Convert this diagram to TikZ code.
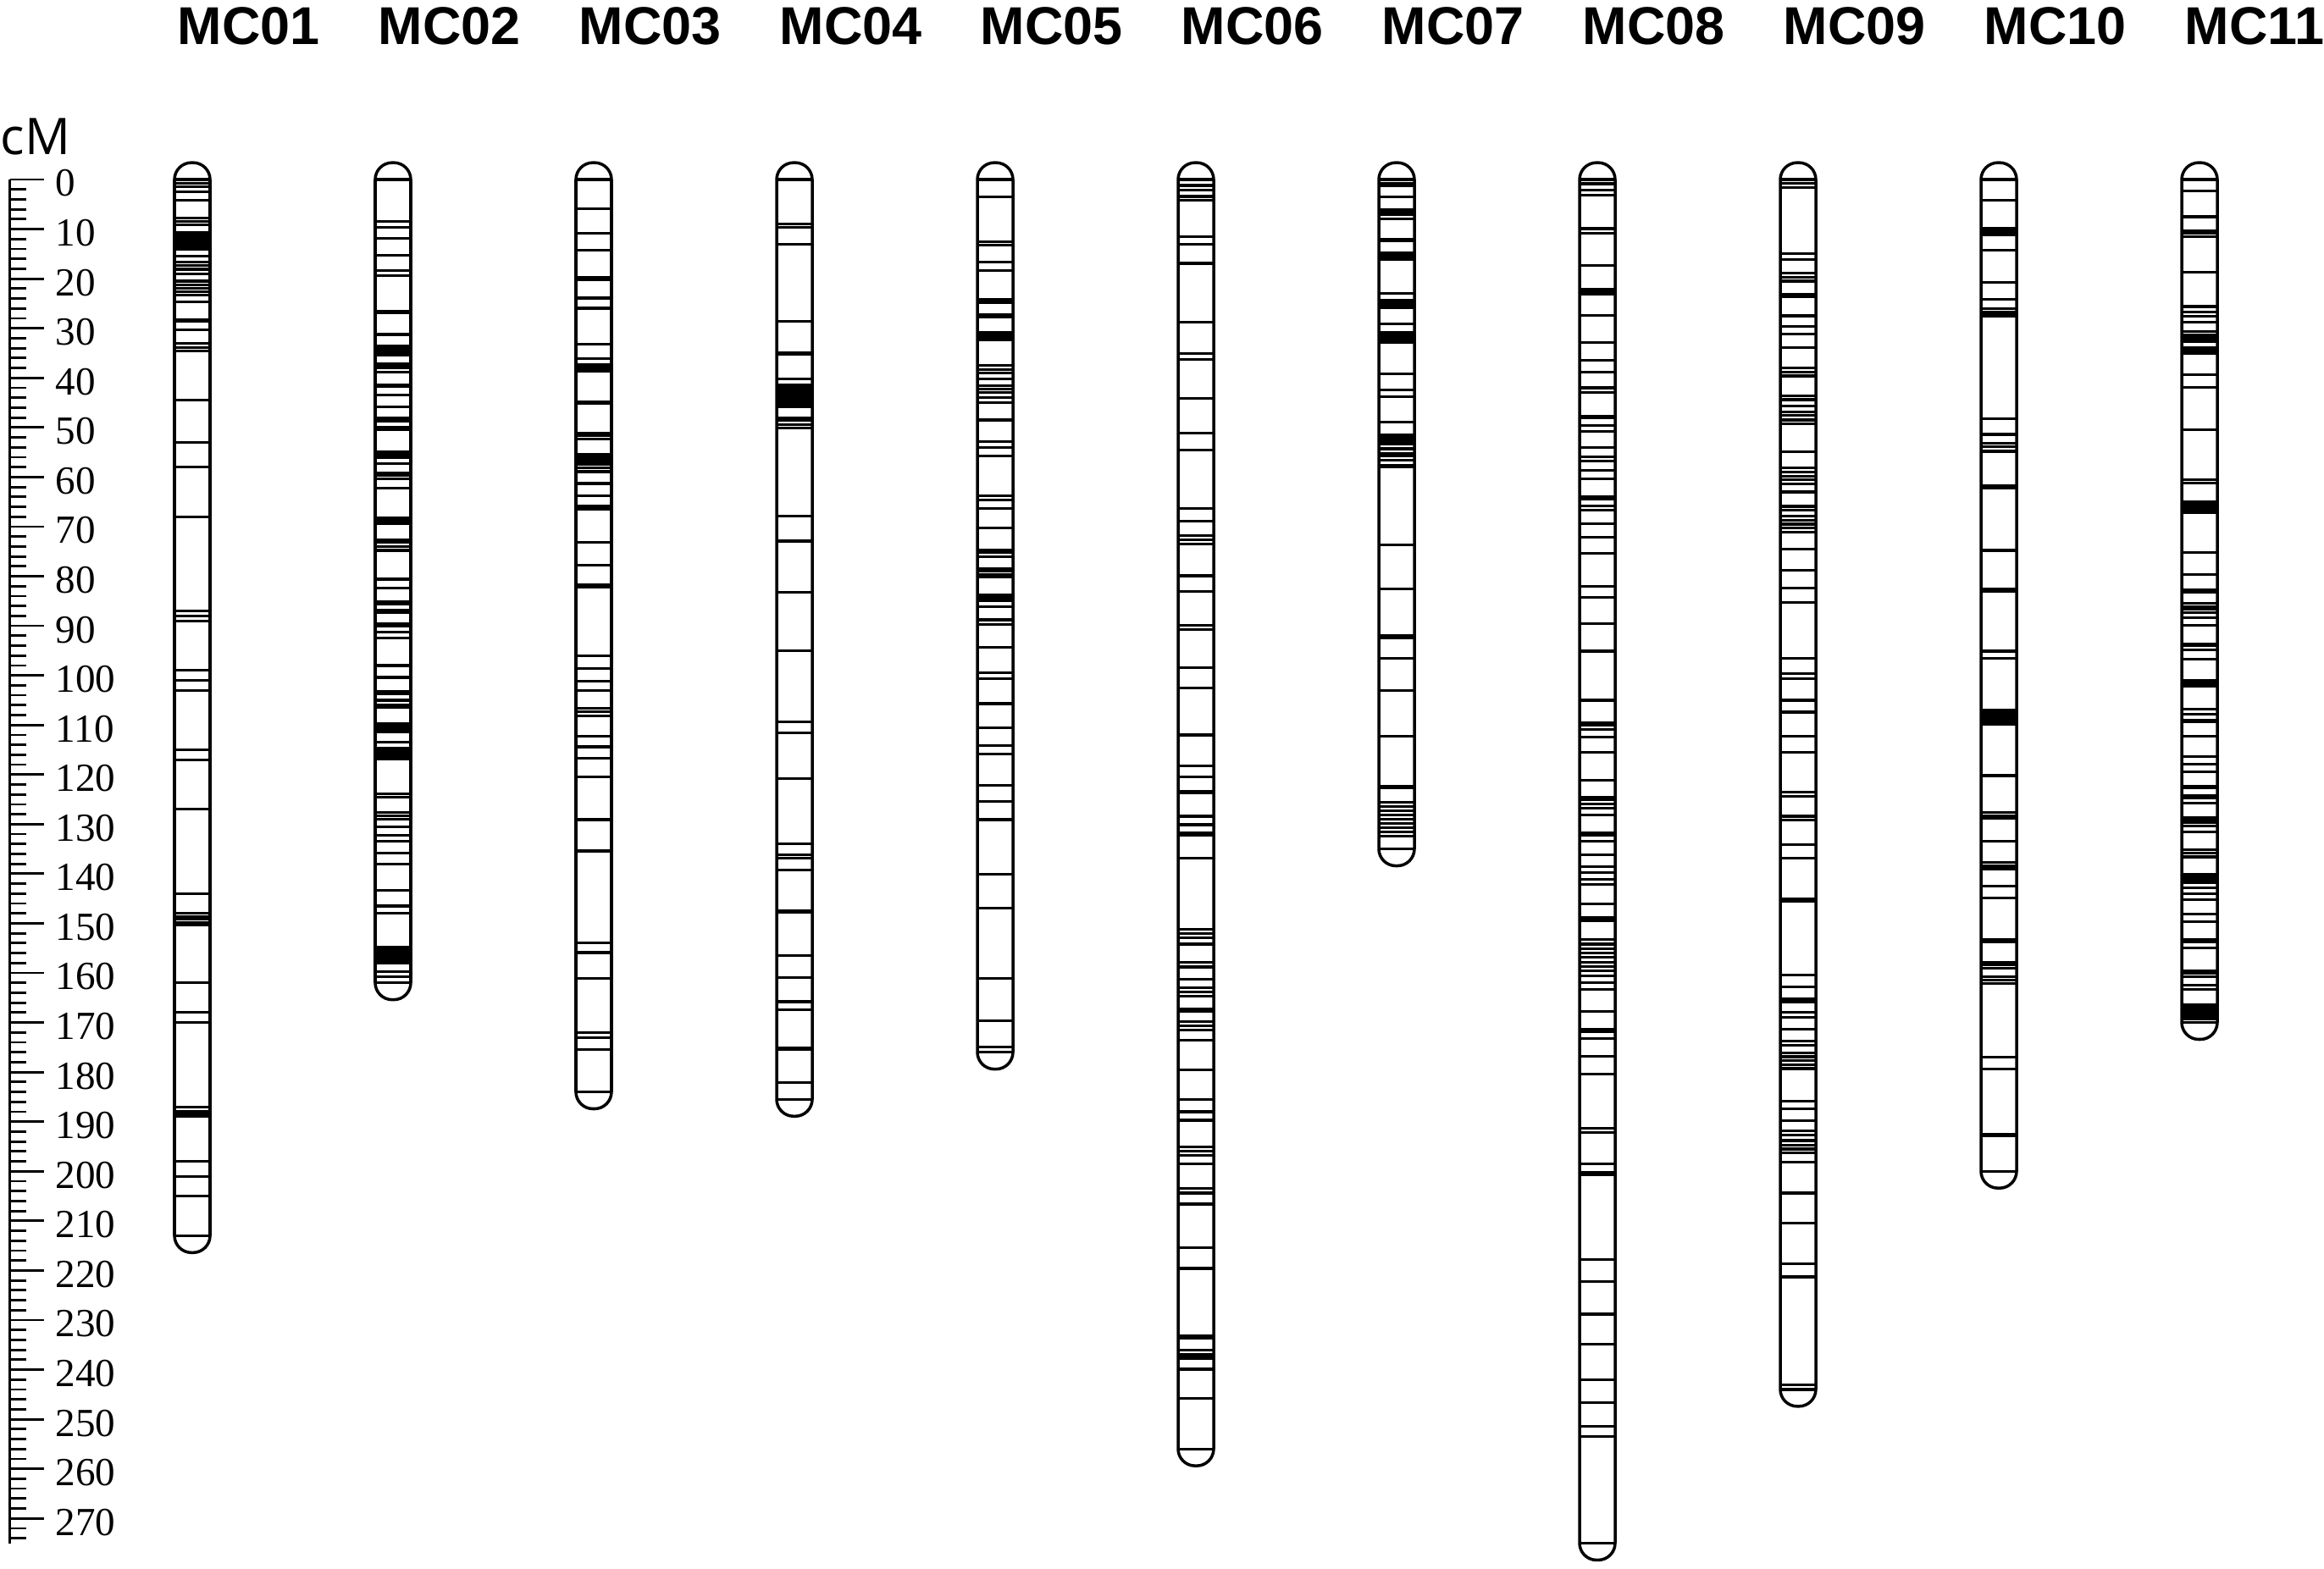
\documentclass[tikz,border=0pt]{standalone}
\usepackage{fontspec}
\setmainfont{Liberation Serif}
\setsansfont{Liberation Sans}
\newfontfamily\unitfont{Open Sans}

\tikzset{
  chrom/.style={line width=1pt, rounded corners=0.2cm},
  marker/.style={line width=0.9pt},
  axisline/.style={line width=0.8pt},
  chrlabel/.style={anchor=base west, inner sep=0pt, font=\sffamily\bfseries\fontsize{17.9}{18}\selectfont},
  scalelabel/.style={anchor=west, inner sep=0pt, yshift=-0.045cm, font=\fontsize{13.4}{14}\selectfont}
}

% name, x, length (cM), marker positions (cM)
\newcommand\linkgroup[4]{
  \node[chrlabel] (#1) at (#2-0.18,-27.3) {#1};
  \foreach \m in {#4}
    \draw[marker] (#2-0.195,\m) -- (#2+0.195,\m);
  \draw[chrom] (#2-0.21,-3.4) rectangle (#2+0.21,#3+3.4);
}

\begin{document}
\begin{tikzpicture}
  \useasboundingbox (0,0) rectangle (27.44,-18.52);
  \node[anchor=base west, inner sep=0pt, font=\unitfont\fontsize{17}{18}\selectfont] (unit) at (0,-1.82) {cM};
  \begin{scope}[yshift=-2.12cm, y=-0.05857cm]
    \draw[axisline] (0.117,0) -- (0.117,275);
    \foreach \t in {0,2,...,274}
      \draw[axisline] (0.117,\t) -- (0.307,\t);
    \foreach \t in {0,10,...,270} {
      \draw[axisline] (0.117,\t) -- (0.517,\t);
      \node[scalelabel] (t\t) at (0.65,\t) {\t};
    }
    \linkgroup{MC01}{2.27}{213}{0,0.7,1.4,2.5,4.2,7.8,8.5,9.2,10.6,11.1,11.6,12.1,12.6,13.1,13.6,14.1,15.5,16.6,17.3,18.1,19,20.5,21.2,21.9,22.6,23.3,24.7,28.2,28.6,30.3,33.1,33.9,34.6,44.5,53,58,68,87,88,89,99,101,103,115,117,127,144,148,148.6,149.2,149.8,150.4,162,168,170,187,188,188.6,189,198,201,205,213}
    \linkgroup{MC02}{4.64}{162}{0,8.4,9.6,11.8,15.3,18.3,19.4,26.5,26.9,31.2,31.4,33.6,34.1,34.5,34.9,35.5,37.1,37.7,38,38.8,41.5,41.8,43.4,45.9,48,48.4,48.7,50,50.5,54.9,55.3,55.7,56,57.3,59.2,59.7,60.4,62.2,68.2,68.8,69.4,72.6,73.1,74,74.8,80.6,82.4,85.2,85.7,86.8,87.3,89.5,90.1,91.2,92.5,98,100.4,103.2,103.7,105,105.9,106.4,109.7,110.3,110.7,111,111.4,113.5,114.6,115.1,115.6,116.2,116.8,123.9,124.5,127.7,128.3,129,130.5,132.3,133.4,135.9,138.1,143.3,146.5,148,154.8,155.3,155.9,156.5,157,157.6,158.1,159.8,160.8,162}
    \linkgroup{MC03}{7.01}{184}{0,5.9,10.8,14.3,19.8,20.2,23.9,25.8,26.1,33.2,36.1,37.4,38,38.6,44.8,45.2,51.1,51.7,52.3,55.4,55.9,56.4,57,57.5,58.1,58.9,61.3,63.8,65.9,66.5,73.1,77.8,81.8,82.2,96.1,98.6,101.1,103,106.7,107.3,108.2,112.3,114.4,116.7,120.4,129.1,135.4,154,155.9,161.1,172.1,173,175.5,184}
    \linkgroup{MC04}{9.38}{185.5}{0,9,9.6,13.1,28.6,34.9,35.2,40.2,41.4,41.9,42.4,42.9,43.4,43.9,44.4,44.9,45.4,45.8,48,48.6,49.5,50.1,67.9,72.9,83.2,95,109.3,111.6,120.8,134,136.2,136.8,139.3,147.4,147.8,156.5,160.9,165.8,167.4,175.2,175.5,182.1,185.5}
    \linkgroup{MC05}{11.75}{176}{0,3.5,12.5,13.3,16.6,18.3,24.2,24.6,24.9,27.2,27.7,30.8,31.2,31.6,32,32.4,37.5,38.3,39,40.2,41.6,42.2,43,44,45,48.5,52.8,54,55.8,63.8,64.6,66.4,70.3,74.7,75.2,76.1,78.4,79,79.6,80.2,83.8,84.2,84.6,85,86.2,88.8,89.7,94.3,99.4,100.6,105.7,110.6,114.2,115.9,122.2,125.4,129.1,140.1,146.9,161.1,169.6,174.9,176}
    \linkgroup{MC06}{14.12}{256}{0,1.2,2.2,3.4,4.2,11.5,13,16.9,28.7,35.1,36.3,44.1,51.2,54.6,66.4,68.9,71.8,72.6,73.5,79.9,83.1,89.9,90.7,98.5,102.5,112,118.2,120.4,123.3,123.7,128.4,130.1,131.8,132.3,136.8,151.2,152,152.9,154.2,157.9,158.8,161.3,163,163.9,164.7,167.2,167.7,169.8,170.6,171.5,173.5,179.6,185.5,188,189.7,195.1,195.9,196.8,198.5,203.5,204.4,206.6,215.4,219.6,233.1,233.6,236,237,237.7,239.9,245.8,256}
    \linkgroup{MC07}{16.49}{135}{0,0.7,1.3,3.5,6.1,6.5,7,7.9,12.1,12.3,14.7,15.2,15.7,16.2,22.9,24.4,24.9,25.4,25.8,29.1,30.9,31.4,31.9,32.4,32.8,39.2,42.4,43.8,48.9,51.5,51.9,52.4,52.9,53.3,54.3,55.2,55.7,56.6,57.6,57.9,73.7,82.5,91.9,92.4,96.5,103.1,112.3,122.4,122.7,125.6,126.5,127.3,128.2,129,129.8,130.7,131.6,132.4,135}
    \linkgroup{MC08}{18.86}{275}{0,0.85,2.1,3.2,9.9,10.8,17.4,22.1,22.7,23.1,27.4,32.8,36.4,38.8,42,42.9,47.8,48.1,49.6,50.8,54.1,55.9,56.8,58.6,60.4,64,64.5,65.8,66.7,69.4,72.1,75.4,82.1,84.2,89.6,95.1,105,109.5,110,110.9,112.4,115.5,121.2,124.5,125,125.9,126.8,128.1,131.7,132.3,133.5,136.2,138.6,139.8,141.1,142.2,146.1,148.8,149.4,153.3,154.2,155.1,156,156.9,157.8,158.7,159.6,160.6,162,163.3,167.8,171.4,171.9,173.2,176.8,180.4,191.3,192.2,198.5,200.3,200.7,217.8,222.3,228.8,234.9,242.1,246.7,251.4,253.5,275}
    \linkgroup{MC09}{21.23}{244}{0,0.8,1.6,15,16.2,18.9,19.7,20.5,23.1,23.7,27.5,29.6,31.2,33.9,38,38.8,39.6,43.6,44.4,45.7,46.8,47.6,48.5,49.3,54.9,58.2,59,59.8,60.6,61.4,63,65.9,66.7,67.9,68.7,69.5,70.3,71.1,74.6,78.8,82.4,85.3,96.6,99.7,100.6,105,107.4,112.3,115.5,123.6,124.4,128.4,129.2,134.1,136.8,145,145.6,160.4,162.8,165.3,165.9,168,168.9,171.3,173.7,174.6,176.1,176.9,177.7,178.5,179.3,185.8,187.4,189.8,191.8,192.7,193.8,194.7,195.5,196.3,198.2,204.4,210.5,218.6,221.3,243,244}
    \linkgroup{MC10}{23.60}{200}{0,4.2,9.9,10.3,10.7,11.1,14.2,20.7,24.1,26.1,26.8,27.5,48.2,51.4,53.2,53.9,54.8,61.7,62.2,74.8,82.5,83.1,95.1,96.5,107,107.5,108,108.5,109,109.5,109.9,120.2,127.6,128.3,128.9,133.4,137.7,138.4,139,142.5,144.9,153.3,153.7,157.8,158.3,159.1,160.8,161.5,162.1,177,179.4,192.5,192.9,200}
    \linkgroup{MC11}{25.97}{170}{0,2.3,7.5,10.3,10.9,11.5,18.7,25.6,26.7,27.6,28.7,30.7,31.3,31.8,32.4,32.7,33.9,34.4,35,39.4,41.9,50.5,60.6,61.2,64.9,65.4,66,66.6,67.2,75.2,79.6,82.7,83.2,85.5,86.1,86.7,87.3,88.4,89.9,93.6,93.9,94.9,96.7,101,101.4,101.9,102.2,106.8,107.9,109.1,109.4,112.2,116.3,117.9,119.4,122.3,122.6,124.3,124.8,125.7,128.6,129.2,129.7,130.3,131.5,135.1,135.8,136.6,140.1,140.6,141.2,141.8,142.9,144.1,145.2,148.1,149.6,153.3,153.8,155,159.6,160.1,160.7,162.4,163.3,166.4,167,167.5,168.1,168.7,169.3,170}
  \end{scope}
\end{tikzpicture}
\end{document}
